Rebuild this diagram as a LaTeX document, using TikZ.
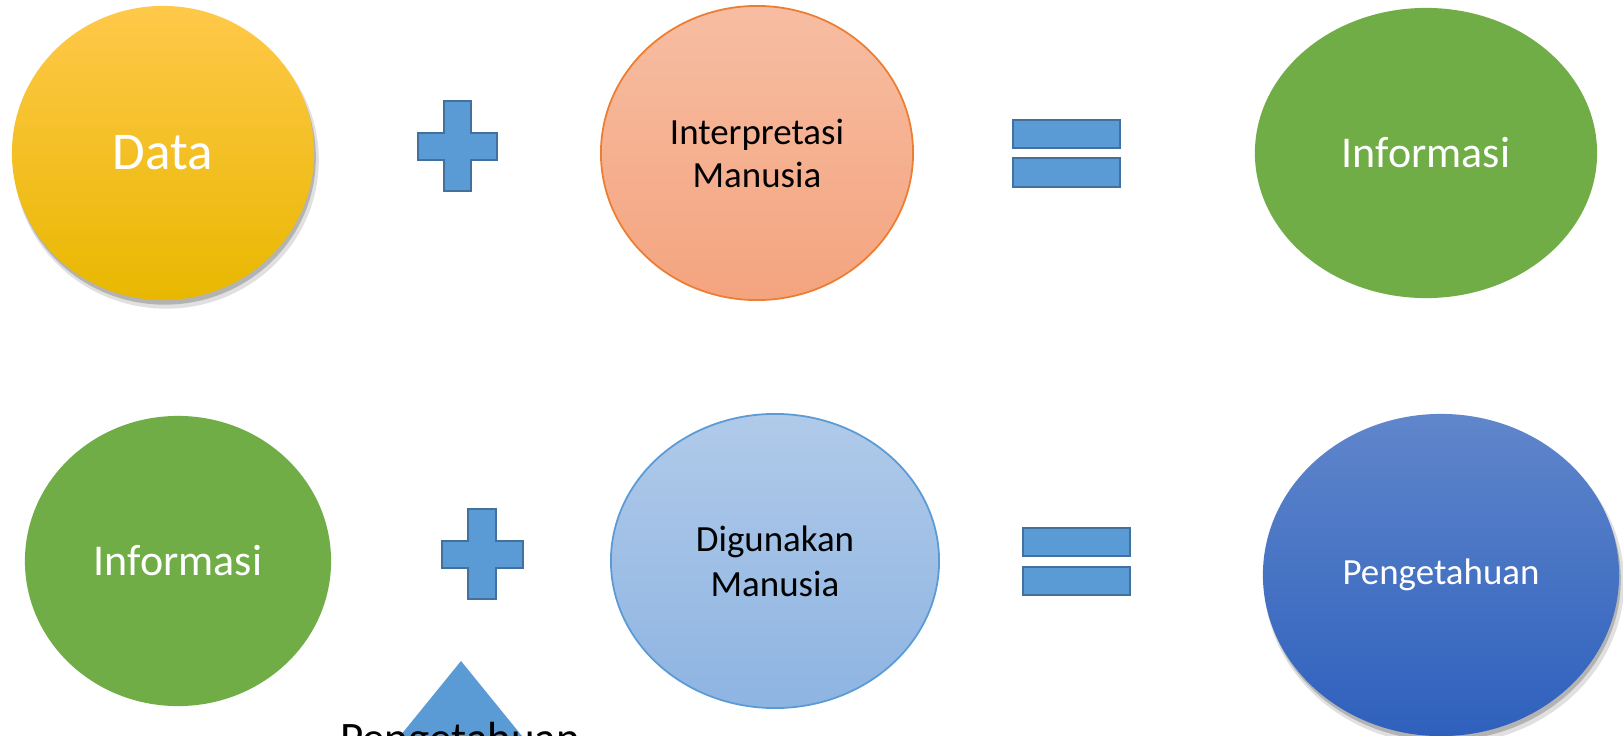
\documentclass[tikz,border=0pt]{standalone}
\usepackage{fontspec}
\setmainfont{Carlito}
\usetikzlibrary{shapes.geometric,shadows}
\definecolor{dataTop}{HTML}{FFC84A}
\definecolor{dataMid}{HTML}{FFC000}
\definecolor{dataBot}{HTML}{E8B800}
\definecolor{intTop}{HTML}{F7BDA2}
\definecolor{intBot}{HTML}{F4A47F}
\definecolor{intLine}{HTML}{ED7D31}
\definecolor{infoGreen}{HTML}{70AD47}
\definecolor{digTop}{HTML}{B0CAE9}
\definecolor{digBot}{HTML}{8EB4E2}
\definecolor{digLine}{HTML}{5B9BD5}
\definecolor{pengTop}{HTML}{6086CB}
\definecolor{pengBot}{HTML}{2E60BD}
\definecolor{opFill}{HTML}{5B9BD5}
\definecolor{opLine}{HTML}{41719C}
\tikzset{
  blob/.style={ellipse, inner sep=0pt, align=center},
  opshape/.style={fill=opFill, draw=opLine, line width=0.8pt},
  softshadow/.style={
    drop shadow={shadow xshift=0.9pt, shadow yshift=-2.0pt, opacity=0.12, fill=black, shadow scale=1.01},
    drop shadow={shadow xshift=0.5pt, shadow yshift=-1.3pt, opacity=0.2, fill=black}},
}
\begin{document}
\begin{tikzpicture}[x=0.01cm, y=-0.01cm]
\useasboundingbox (0,0) rectangle (1623,736);
\fill[white] (0,0) rectangle (1623,736);
\clip (0,0) rectangle (1623,736);

% top row
\node[blob, softshadow, top color=dataTop, middle color=dataMid, bottom color=dataBot,
  minimum width=3.02cm, minimum height=2.94cm, text=white,
  font=\fontsize{15.1}{18}\selectfont] (data) at (163,153) {Data};
\node[blob, draw=intLine, line width=0.5pt, top color=intTop, bottom color=intBot,
  minimum width=3.12cm, minimum height=2.94cm,
  font=\fontsize{10.5}{12.2}\selectfont] (interp) at (757,153) {Interpretasi\\Manusia};
\node[blob, fill=infoGreen, minimum width=3.42cm, minimum height=2.90cm, text=white,
  font=\fontsize{12.5}{15}\selectfont] (info1) at (1426,153) {Informasi};

% top plus
\draw[opshape] (444,101) -- (471,101) -- (471,133) -- (497,133) -- (497,160) -- (471,160)
  -- (471,191) -- (444,191) -- (444,160) -- (418,160) -- (418,133) -- (444,133) -- cycle;
% top equals
\draw[opshape] (1013,120) rectangle (1120,148);
\draw[opshape] (1013,158) rectangle (1120,187);

% bottom row
\node[blob, fill=infoGreen, minimum width=3.06cm, minimum height=2.90cm, text=white,
  font=\fontsize{12.5}{15}\selectfont] (info2) at (178,561) {Informasi};
\node[blob, draw=digLine, line width=0.5pt, top color=digTop, bottom color=digBot,
  minimum width=3.28cm, minimum height=2.94cm,
  font=\fontsize{10.5}{12.8}\selectfont] (digun) at (775,561) {Digunakan\\Manusia};
\node[blob, softshadow, top color=pengTop, bottom color=pengBot,
  minimum width=3.56cm, minimum height=3.22cm, text=white,
  font=\fontsize{10.5}{12.6}\selectfont] (peng) at (1441,575) {Pengetahuan};

% bottom plus
\draw[opshape] (468,509) -- (496,509) -- (496,541) -- (523,541) -- (523,568) -- (496,568)
  -- (496,599) -- (468,599) -- (468,568) -- (442,568) -- (442,541) -- (468,541) -- cycle;
% bottom equals
\draw[opshape] (1023,528) rectangle (1130,556);
\draw[opshape] (1023,567) rectangle (1130,595);

% triangle and label
\fill[opFill] (461,661) -- (574,800) -- (348,800) -- cycle;
\node[anchor=base, inner sep=0pt, font=\fontsize{12.8}{15}\selectfont] (tri) at (460,753) {Pengetahuan};
\end{tikzpicture}
\end{document}
